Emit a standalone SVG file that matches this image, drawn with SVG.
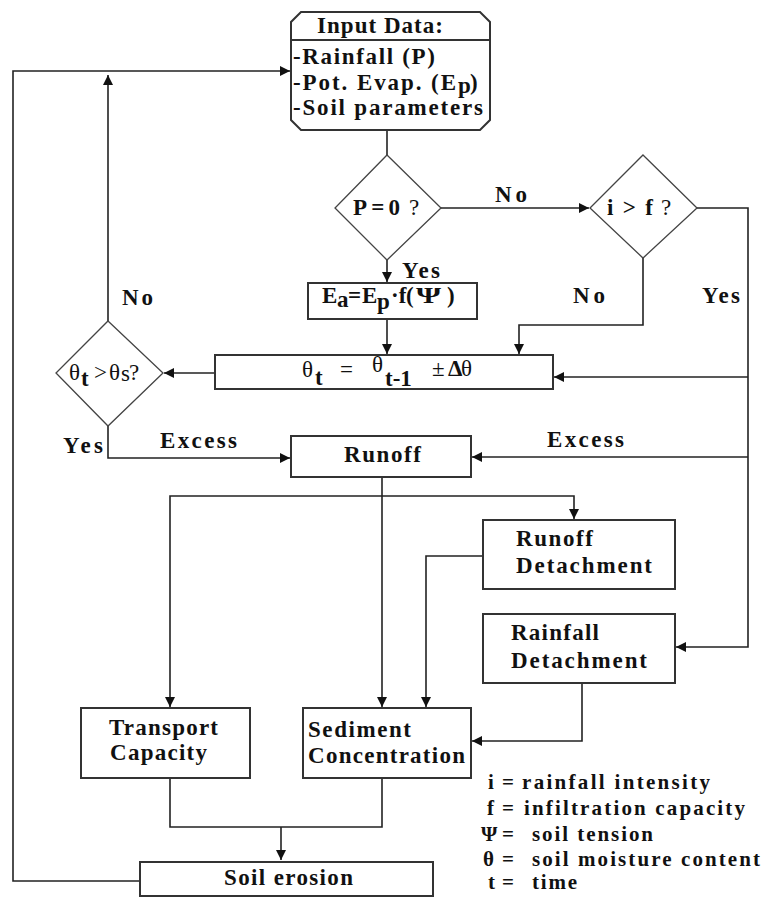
<svg xmlns="http://www.w3.org/2000/svg" width="764" height="897" viewBox="0 0 764 897">
<style>
.t{font-family:"Liberation Serif","Times New Roman",serif;font-weight:bold;font-size:23px;fill:#111}
.n{font-family:"Liberation Serif","Times New Roman",serif;font-weight:normal;font-size:23px;fill:#111}
.lg{font-family:"Liberation Serif","Times New Roman",serif;font-weight:bold;font-size:21px;fill:#111}
.box{fill:#fff;stroke:#333;stroke-width:2}
.dia{fill:#fff;stroke:#444;stroke-width:1.3}
.c{fill:none;stroke:#222;stroke-width:1.6}
</style>
<defs>
<marker id="ah" viewBox="0 0 10 10" refX="10" refY="5" markerWidth="10" markerHeight="11" markerUnits="userSpaceOnUse" orient="auto"><path d="M0,0 L10,5 L0,10 z" fill="#111"/></marker>
</defs>
<rect width="764" height="897" fill="#fff"/>

<g id="connectors">
<path class="c" d="M387,130 V155"/>
<path class="c" d="M441,208 H589" marker-end="url(#ah)"/>
<path class="c" d="M387,260 V282" marker-end="url(#ah)"/>
<path class="c" d="M387,319 V354" marker-end="url(#ah)"/>
<path class="c" d="M643,258 V325 H519 V354" marker-end="url(#ah)"/>
<path class="c" d="M697,208 H748 V647 H676" marker-end="url(#ah)"/>
<path class="c" d="M748,377 H554" marker-end="url(#ah)"/>
<path class="c" d="M748,457 H472" marker-end="url(#ah)"/>
<path class="c" d="M215,373 H164" marker-end="url(#ah)"/>
<path class="c" d="M108,321 V75" marker-end="url(#ah)"/>
<path class="c" d="M108,426 V458 H290" marker-end="url(#ah)"/>
<path class="c" d="M382,477 V707" marker-end="url(#ah)"/>
<path class="c" d="M382,496 H170 V707" marker-end="url(#ah)"/>
<path class="c" d="M382,496 H574 V519" marker-end="url(#ah)"/>
<path class="c" d="M483,556 H426 V707" marker-end="url(#ah)"/>
<path class="c" d="M582,683 V741 H472" marker-end="url(#ah)"/>
<path class="c" d="M170,778 V827 H382 V778"/>
<path class="c" d="M281,827 V860" marker-end="url(#ah)"/>
<path class="c" d="M140,881 H13 V71 H290" marker-end="url(#ah)"/>
</g>

<g id="input">
<path class="box" d="M301,12 H480 L490,22 V120 L480,130 H301 L291,120 V22 Z"/>
<path d="M291,40 H490" fill="none" stroke="#333" stroke-width="2"/>
<text class="t" x="317" y="33" textLength="126" lengthAdjust="spacing">Input Data:</text>
<text class="t" x="293" y="64" textLength="142" lengthAdjust="spacing">-Rainfall (P)</text>
<text class="t" x="293" y="90" textLength="163" lengthAdjust="spacing">-Pot. Evap. (E</text>
<text class="t" x="458" y="93" font-size="15">p</text>
<text class="t" x="470" y="90">)</text>
<text class="t" x="293" y="115" textLength="190" lengthAdjust="spacing">-Soil parameters</text>
</g>

<g id="p-zero">
<path class="dia" d="M387,155 L441,208 L387,260 L335,208 Z"/>
<text class="t" x="353" y="215" textLength="47" lengthAdjust="spacing">P=0</text>
<text class="n" x="409" y="215">?</text>
</g>

<g id="i-gt-f">
<path class="dia" d="M643,155 L697,208 L643,258 L590,208 Z"/>
<text class="t" x="607" y="215" textLength="46" lengthAdjust="spacing">i &gt; f</text>
<text class="n" x="661" y="215">?</text>
</g>

<g id="ea">
<rect class="box" x="308" y="283" width="169" height="36"/>
<text class="t" x="322" y="303">E</text>
<text class="t" x="337" y="307" font-size="17">a</text>
<text class="t" x="348" y="303">=</text>
<text class="t" x="362" y="303">E</text>
<text class="t" x="377" y="309" font-size="17">p</text>
<text class="t" x="391" y="303">·f</text>
<text class="t" x="406" y="303">(</text>
<text class="t" transform="translate(416,303) scale(1.4,1)">Ψ</text>
<text class="t" x="447" y="303">)</text>
</g>

<g id="theta-update">
<rect class="box" x="215" y="355" width="338" height="34"/>
<text class="n" x="302" y="377">θ</text>
<text class="t" x="315" y="385">t</text>
<text class="n" x="340" y="377">=</text>
<text class="n" x="372" y="372">θ</text>
<text class="t" x="385" y="386">t-1</text>
<text class="n" x="432" y="376">±</text>
<text class="t" x="448" y="376" font-size="19">Δ</text>
<text class="n" x="461" y="376">θ</text>
</g>

<g id="theta-check">
<path class="dia" d="M108,321 L163,373 L108,426 L56,373 Z"/>
<text class="n" x="69" y="380" font-size="22">θ</text>
<text class="t" x="81" y="386" font-size="19">t</text>
<text class="n" x="94" y="380" font-size="22">&gt;</text>
<text class="n" x="109" y="380" font-size="22">θ</text>
<text class="n" x="121" y="381" font-size="15">s</text>
<text class="n" x="129" y="380" font-size="22">?</text>
</g>

<g id="runoff">
<rect class="box" x="291" y="436" width="180" height="41"/>
<text class="t" x="344" y="462" textLength="77" lengthAdjust="spacing">Runoff</text>
</g>

<g id="runoff-detachment">
<rect class="box" x="483" y="520" width="192" height="69"/>
<text class="t" x="516" y="546" textLength="77" lengthAdjust="spacing">Runoff</text>
<text class="t" x="516" y="573" textLength="136" lengthAdjust="spacing">Detachment</text>
</g>

<g id="rainfall-detachment">
<rect class="box" x="483" y="614" width="192" height="69"/>
<text class="t" x="511" y="640" textLength="88" lengthAdjust="spacing">Rainfall</text>
<text class="t" x="511" y="668" textLength="136" lengthAdjust="spacing">Detachment</text>
</g>

<g id="transport-capacity">
<rect class="box" x="81" y="708" width="169" height="70"/>
<text class="t" x="109" y="735" textLength="109" lengthAdjust="spacing">Transport</text>
<text class="t" x="110" y="760" textLength="97" lengthAdjust="spacing">Capacity</text>
</g>

<g id="sediment-concentration">
<rect class="box" x="303" y="708" width="168" height="70"/>
<text class="t" x="308" y="737" textLength="103" lengthAdjust="spacing">Sediment</text>
<text class="t" x="308" y="763" textLength="157" lengthAdjust="spacing">Concentration</text>
</g>

<g id="soil-erosion">
<rect class="box" x="140" y="862" width="293" height="34"/>
<text class="t" x="224" y="885" textLength="129" lengthAdjust="spacing">Soil erosion</text>
</g>

<g id="labels">
<text class="t" x="495" y="202" textLength="32" lengthAdjust="spacing">No</text>
<text class="t" x="402" y="278" textLength="38" lengthAdjust="spacing">Yes</text>
<text class="t" x="573" y="303" textLength="32" lengthAdjust="spacing">No</text>
<text class="t" x="702" y="303" textLength="38" lengthAdjust="spacing">Yes</text>
<text class="t" x="122" y="305" textLength="31" lengthAdjust="spacing">No</text>
<text class="t" x="63" y="453" textLength="40" lengthAdjust="spacing">Yes</text>
<text class="t" x="160" y="448" textLength="77" lengthAdjust="spacing">Excess</text>
<text class="t" x="547" y="447" textLength="77" lengthAdjust="spacing">Excess</text>
</g>

<g id="legend">
<text class="lg" x="488" y="789">i</text><text class="lg" x="502" y="789">=</text><text class="lg" x="522" y="789" textLength="188" lengthAdjust="spacing">rainfall intensity</text>
<text class="lg" x="487" y="815">f</text><text class="lg" x="502" y="815">=</text><text class="lg" x="524" y="815" textLength="221" lengthAdjust="spacing">infiltration capacity</text>
<text class="lg" x="481" y="841">Ψ</text><text class="lg" x="502" y="841">=</text><text class="lg" x="532" y="841" textLength="121" lengthAdjust="spacing">soil tension</text>
<text class="lg" x="483" y="866">θ</text><text class="lg" x="502" y="866">=</text><text class="lg" x="532" y="866" textLength="228" lengthAdjust="spacing">soil moisture content</text>
<text class="lg" x="488" y="889">t</text><text class="lg" x="502" y="889">=</text><text class="lg" x="532" y="889" textLength="45" lengthAdjust="spacing">time</text>
</g>
</svg>
